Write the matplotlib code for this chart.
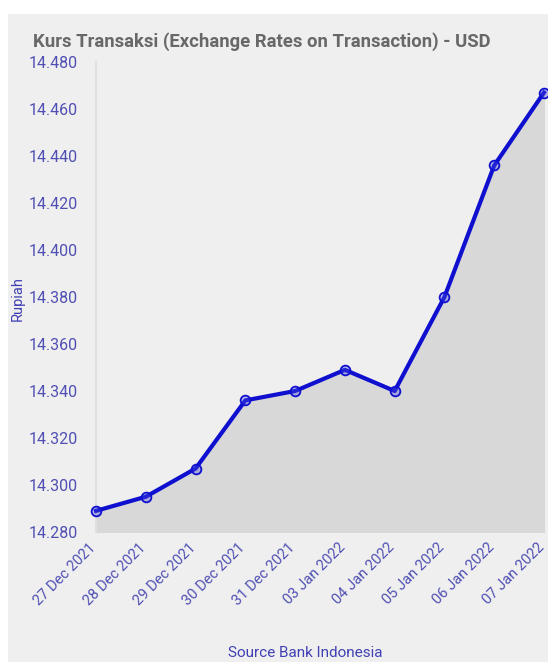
import matplotlib.pyplot as plt
import matplotlib.patches as mpatches
import matplotlib.ticker as mticker
import matplotlib.transforms as mtransforms
import numpy as np

plt.rcParams['font.family'] = ['Roboto', 'DejaVu Sans']

# data
dates = ['27 Dec 2021', '28 Dec 2021', '29 Dec 2021', '30 Dec 2021', '31 Dec 2021',
         '03 Jan 2022', '04 Jan 2022', '05 Jan 2022', '06 Jan 2022', '07 Jan 2022']
rates = [14289, 14295, 14307, 14336, 14340, 14349, 14340, 14380, 14436, 14467]
yticks = [14280, 14300, 14320, 14340, 14360, 14380, 14400, 14420, 14440, 14460, 14480]

W, H = 548, 662
fig = plt.figure(figsize=(W / 100, H / 100), dpi=100, facecolor='white')

# grey panel with white strip on top and left
fig.patches.append(mpatches.Rectangle((8 / W, 0), 1, (H - 14) / H, transform=fig.transFigure,
                                      facecolor='#efefef', edgecolor='none', zorder=-5))

ax = fig.add_axes([96 / W, (H - 532) / H, 448 / W, 470 / H])
ax.set_zorder(2)
ax.set_facecolor('none')

x = np.arange(len(dates))
blue = '#0f0fd0'
ax.fill_between(x, rates, 14280, color='#d8d8d8', zorder=1)
ax.plot(x, rates, color=blue, lw=3.0, zorder=3, clip_on=False,
        marker='o', ms=7, mfc=(0.3, 0.3, 0.9, 0.35), mec=blue, mew=1.3)

ax.set_xlim(0, 9.0)
ax.set_ylim(14280, 14480)
ax.set_yticks(yticks)
ax.yaxis.set_major_formatter(mticker.FuncFormatter(lambda v, p: f'{int(v):,}'.replace(',', '.')))
ax.set_xticks(x)
ax.set_xticklabels(dates, rotation=45, ha='right', va='top', rotation_mode='anchor')

tick_col = '#5050b4'
ax.tick_params(axis='y', length=0, pad=13, labelsize=11.5, labelcolor=tick_col)
ax.tick_params(axis='x', length=0, pad=6, labelsize=10.5, labelcolor=tick_col)

# nudge the rotated date labels left so the last one stays inside
shift = mtransforms.ScaledTranslation(-7 / 100, 0, fig.dpi_scale_trans)
for lab in ax.get_xticklabels():
    lab.set_transform(lab.get_transform() + shift)

for s in ['top', 'right', 'bottom']:
    ax.spines[s].set_visible(False)
ax.spines['left'].set_color('#e0e0e0')
ax.spines['left'].set_linewidth(1.5)

fig.text(33 / W, (H - 47) / H, 'Kurs Transaksi (Exchange Rates on Transaction) - USD',
         fontsize=13.3, fontweight='bold', color='#686868', va='baseline', ha='left')
fig.text(18 / W, (H - 299) / H, 'Rupiah', rotation=90, fontsize=10.5, color='#4040b4',
         ha='center', va='center')
fig.text(305 / W, 2 / H, 'Source Bank Indonesia', fontsize=11, color='#4040b4',
         ha='center', va='bottom')

fig.savefig('out.png', dpi=100, facecolor=fig.get_facecolor())
